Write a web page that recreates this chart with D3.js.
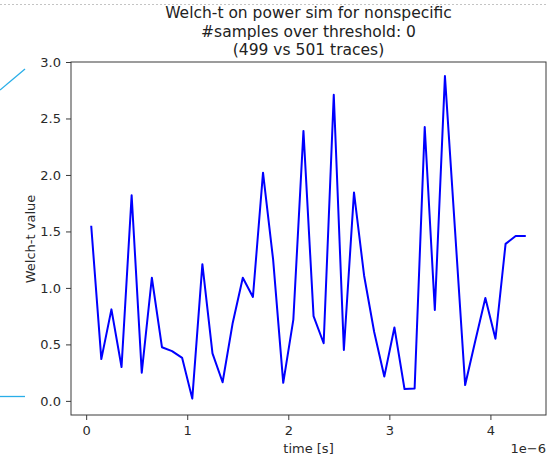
<!DOCTYPE html>
<html>
<head>
<meta charset="utf-8">
<script src="https://cdn.jsdelivr.net/npm/d3@7"></script>
<style>
  html, body { margin: 0; padding: 0; background: #fff; }
  svg { display: block; }
  text { font-family: "DejaVu Sans", sans-serif; }
</style>
</head>
<body>
<div id="chart"></div>
<script>
// ---- data ----
const titleLines = ["Welch-t on power sim for nonspecific", "#samples over threshold: 0", "(499 vs 501 traces)"];
const xLabel = "time [s]";
const yLabel = "Welch-t value";
const offsetText = "1e\u22126";
const timesUs = [0.05, 0.15, 0.25, 0.35, 0.45, 0.55, 0.65, 0.75, 0.85, 0.95,
                 1.05, 1.15, 1.25, 1.35, 1.45, 1.55, 1.65, 1.75, 1.85, 1.95,
                 2.05, 2.15, 2.25, 2.35, 2.45, 2.55, 2.65, 2.75, 2.85, 2.95,
                 3.05, 3.15, 3.25, 3.35, 3.45, 3.55, 3.65, 3.75, 3.85, 3.95,
                 4.05, 4.15, 4.25, 4.35];
const welchT = [1.55, 0.37, 0.81, 0.30, 1.82, 0.25, 1.09, 0.475, 0.44, 0.38,
                0.02, 1.21, 0.42, 0.165, 0.69, 1.09, 0.92, 2.02, 1.25, 0.16,
                0.72, 2.39, 0.75, 0.51, 2.71, 0.45, 1.845, 1.11, 0.61, 0.215,
                0.65, 0.105, 0.11, 2.425, 0.805, 2.875, 1.51, 0.14, 0.53, 0.91,
                0.55, 1.39, 1.46, 1.46];
const xTicks = [0, 1, 2, 3, 4];
const yTicks = [0.0, 0.5, 1.0, 1.5, 2.0, 2.5, 3.0];

// ---- layout ----
const W = 548, H = 459;
const plot = { left: 71, right: 546, top: 62, bottom: 415 };

const svg = d3.select("#chart").append("svg").attr("width", W).attr("height", H);

// decorative screenshot artefacts
svg.append("line").attr("x1", 0).attr("x2", W).attr("y1", 4.5).attr("y2", 4.5)
  .attr("stroke", "#c4c4c4").attr("stroke-width", 1).attr("stroke-dasharray", "2,2");
svg.append("line").attr("x1", 0).attr("y1", 90).attr("x2", 25).attr("y2", 69)
  .attr("stroke", "#29aee8").attr("stroke-width", 1.3);
svg.append("line").attr("x1", 0).attr("y1", 396.5).attr("x2", 25).attr("y2", 396.5)
  .attr("stroke", "#29aee8").attr("stroke-width", 1.3);

const x = d3.scaleLinear().domain([-0.15, 4.55]).range([plot.left, plot.right]);
const y = d3.scaleLinear().domain([-0.125, 3.0]).range([plot.bottom, plot.top]);

// line
const data = timesUs.map((t, i) => ({ t, v: welchT[i] }));
svg.append("path").datum(data)
  .attr("fill", "none").attr("stroke", "#0000ff").attr("stroke-width", 2)
  .attr("stroke-linejoin", "round")
  .attr("d", d3.line().x(d => x(d.t)).y(d => y(d.v)));

// frame
svg.append("rect").attr("x", plot.left).attr("y", plot.top)
  .attr("width", plot.right - plot.left).attr("height", plot.bottom - plot.top)
  .attr("fill", "none").attr("stroke", "#3a3a3a").attr("stroke-width", 1);

// axes
const xAxis = d3.axisBottom(x).tickValues(xTicks).tickFormat(d3.format("d")).tickSize(5).tickPadding(6);
const yAxis = d3.axisLeft(y).tickValues(yTicks).tickFormat(d3.format(".1f")).tickSize(5).tickPadding(5);

const gx = svg.append("g").attr("transform", `translate(0,${plot.bottom})`).call(xAxis);
const gy = svg.append("g").attr("transform", `translate(${plot.left},0)`).call(yAxis);
[gx, gy].forEach(g => {
  g.select(".domain").remove();
  g.selectAll(".tick line").attr("stroke", "#3a3a3a");
  g.selectAll(".tick text").attr("fill", "#2a2a2a").style("font-size", "13px")
    .style("font-family", "'DejaVu Sans', sans-serif");
});

// labels
svg.append("text").attr("x", (plot.left + plot.right) / 2).attr("y", 453)
  .attr("text-anchor", "middle").attr("fill", "#2a2a2a").style("font-size", "13px").text(xLabel);
svg.append("text").attr("transform", `translate(35,239) rotate(-90)`)
  .attr("text-anchor", "middle").attr("fill", "#2a2a2a").style("font-size", "13px").text(yLabel);
svg.append("text").attr("x", plot.right).attr("y", 453)
  .attr("text-anchor", "end").attr("fill", "#2a2a2a").style("font-size", "13px").text(offsetText);

// title
svg.append("g").selectAll("text").data(titleLines).join("text")
  .attr("x", (plot.left + plot.right) / 2)
  .attr("y", (d, i) => 18 + i * 18.5)
  .attr("text-anchor", "middle").attr("fill", "#222").style("font-size", "15.5px")
  .text(d => d);
</script>
</body>
</html>
